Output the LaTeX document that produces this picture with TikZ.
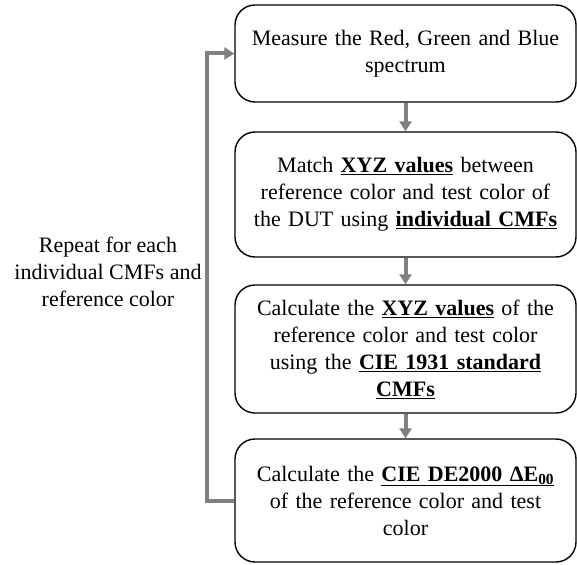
\documentclass[tikz,border=0pt]{standalone}
\usepackage{fontspec}
\setmainfont{Liberation Serif}
\usetikzlibrary{arrows.meta}
\newcommand{\keyterm}[1]{\underline{\textbf{#1}}}
\begin{document}
\begin{tikzpicture}[
    x=1pt, y=1pt,
    stepbox/.style={draw, line width=1.4pt, rounded corners=20pt,
                    minimum width=341pt, text width=330pt, align=center,
                    inner sep=4pt, font=\fontsize{22}{27}\selectfont},
    flow/.style={draw=black!50, line width=4pt,
                 -{Triangle[length=10pt, width=12pt]}},
    loopnote/.style={align=center, font=\fontsize{22}{27}\selectfont}
  ]
  \useasboundingbox (0,0) rectangle (577,-564);

  % Process steps
  \node[stepbox, minimum height=97pt] (measure) at (405.5, -53.5)
    {Measure the Red, Green and Blue\\spectrum};
  \node[stepbox, minimum height=125pt] (match) at (405.5, -194.5)
    {Match \keyterm{XYZ values} between\\reference color and test color of\\the DUT using \keyterm{individual CMFs}};
  \node[stepbox, minimum height=128pt] (xyz) at (405.5, -349)
    {Calculate the \keyterm{XYZ values} of the\\reference color and test color\\using the \keyterm{CIE 1931 standard}\\\keyterm{CMFs}};
  \node[stepbox, minimum height=123pt] (delta) at (405.5, -500.5)
    {Calculate the \keyterm{CIE DE2000 ΔE\textsubscript{00}}\\of the reference color and test\\color};

  % Arrows between the steps
  \draw[flow] (measure) -- (match);
  \draw[flow] (match) -- (xyz);
  \draw[flow] (xyz) -- (delta);

  % Repeat loop
  \draw[flow] (delta.west) -- ++(-27,0) |- (measure.west);
  \node[loopnote] (repeat) at (108, -272)
    {Repeat for each\\individual CMFs and\\reference color};

\end{tikzpicture}
\end{document}
